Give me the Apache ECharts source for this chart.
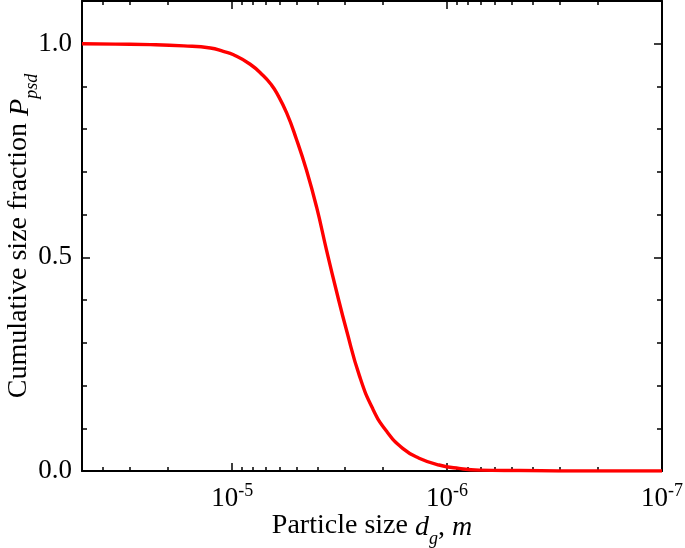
<!DOCTYPE html>
<html>
<head>
<meta charset="utf-8">
<script src="https://cdn.jsdelivr.net/npm/echarts@6/dist/echarts.min.js"></script>
<style>
html,body{margin:0;padding:0;background:#fff;}
#chart{width:685px;height:548px;}
</style>
</head>
<body>
<div id="chart"></div>
<script>
// Particle size d_g (m)
const sizes = [5e-5, 3.5e-5, 2.40e-5, 1.68e-5, 1.264e-5, 1.1e-5, 9.86e-6, 8.25e-6, 7.16e-6, 6.6e-6, 6.21e-6, 5.58e-6, 5.02e-6,
  4.51e-6, 4.05e-6, 3.64e-6, 3.28e-6, 2.94e-6, 2.555e-6, 2.22e-6, 1.92e-6, 1.61e-6, 1.35e-6,
  1.09e-6, 8.8e-7, 7.1e-7, 4.6e-7, 2.5e-7, 1e-7];
// Cumulative size fraction P_psd
const fractions = [1.0, 0.999, 0.998, 0.995, 0.990, 0.982, 0.974, 0.952, 0.925, 0.905, 0.885, 0.838, 0.776,
  0.704, 0.618, 0.517, 0.423, 0.330, 0.222, 0.146, 0.094, 0.053, 0.030,
  0.014, 0.006, 0.002, 0.001, 0.0, 0.0];

const xMajorTicks = [1e-5, 1e-6, 1e-7];
const xMajorExponents = ['-5', '-6', '-7'];
const xMinorTicks = [4e-5, 3e-5, 2e-5, 9e-6, 8e-6, 7e-6, 6e-6, 5e-6, 4e-6, 3e-6, 2e-6,
  9e-7, 8e-7, 7e-7, 6e-7, 5e-7, 4e-7, 3e-7, 2e-7];
const yMajorTicks = [0, 0.5, 1.0];
const yMinorTicks = [0.1, 0.2, 0.3, 0.4, 0.6, 0.7, 0.8, 0.9];
const xMin = 1e-7, xMax = 5e-5, yMin = 0, yMax = 1.1;

const FONT = 'Liberation Serif';
const lineStyle = {color: '#000', width: 2};

function xAxisDef(position, ticks, len, showLine, showLabel) {
  return {
    type: 'log', logBase: 10, inverse: true, min: xMin, max: xMax, position: position,
    axisLine: {show: showLine, onZero: false, lineStyle: lineStyle},
    axisTick: {show: true, inside: true, length: len, customValues: ticks, lineStyle: {color: '#000', width: 1.5}},
    splitLine: {show: false}, minorTick: {show: false},
    axisLabel: showLabel ? {
      show: true, margin: 11, customValues: xMajorTicks,
      formatter: function (v) {
        const i = xMajorTicks.findIndex(t => Math.abs(Math.log10(t) - Math.log10(v)) < 1e-6);
        return '{b|10}{s|' + (i >= 0 ? xMajorExponents[i] : '') + '}';
      },
      rich: {
        b: {fontFamily: FONT, fontSize: 27, color: '#000', lineHeight: 30, verticalAlign: 'bottom'},
        s: {fontFamily: FONT, fontSize: 18, color: '#000', lineHeight: 30, verticalAlign: 'top', padding: [0, 0, 12, 0]}
      }
    } : {show: false}
  };
}
function yAxisDef(position, ticks, len, showLine, showLabel) {
  return {
    type: 'value', min: yMin, max: yMax, position: position,
    axisLine: {show: showLine, onZero: false, lineStyle: lineStyle},
    axisTick: {show: true, inside: true, length: len, customValues: ticks, lineStyle: {color: '#000', width: 1.5}},
    splitLine: {show: false},
    axisLabel: showLabel ? {
      show: true, margin: 10, customValues: yMajorTicks,
      formatter: v => v.toFixed(1),
      fontFamily: FONT, fontSize: 27, color: '#000'
    } : {show: false}
  };
}

const xAxes = [
  xAxisDef('bottom', xMajorTicks, 8, true, true),
  xAxisDef('bottom', xMinorTicks, 4, false, false),
  xAxisDef('top', xMajorTicks, 8, true, false),
  xAxisDef('top', xMinorTicks, 4, false, false)
];
Object.assign(xAxes[0], {
  name: 'Particle size {i|d}{sub|g}{n|, }{i|m}', nameLocation: 'middle', nameGap: 39, nameMoveOverlap: false,
  nameTextStyle: {
    fontFamily: FONT, fontSize: 28, color: '#000', lineHeight: 32,
    rich: {
      i: {fontFamily: FONT, fontSize: 28, fontStyle: 'italic', color: '#000', lineHeight: 32, verticalAlign: 'bottom'},
      n: {fontFamily: FONT, fontSize: 28, color: '#000', lineHeight: 32, verticalAlign: 'bottom'},
      sub: {fontFamily: FONT, fontSize: 18, fontStyle: 'italic', color: '#000', lineHeight: 32, verticalAlign: 'bottom', padding: [0, 0, -6, 0]}
    }
  }
});

const yAxes = [
  yAxisDef('left', yMajorTicks, 8, true, true),
  yAxisDef('left', yMinorTicks, 5, false, false),
  yAxisDef('right', yMajorTicks, 8, true, false),
  yAxisDef('right', yMinorTicks, 5, false, false)
];
Object.assign(yAxes[0], {
  name: 'Cumulative size fraction {i|P}{sub|psd}', nameLocation: 'middle', nameGap: 47, nameRotate: 90, nameMoveOverlap: false,
  nameTextStyle: {
    fontFamily: FONT, fontSize: 28, color: '#000', lineHeight: 32,
    rich: {
      i: {fontFamily: FONT, fontSize: 28, fontStyle: 'italic', color: '#000', lineHeight: 32, verticalAlign: 'bottom'},
      sub: {fontFamily: FONT, fontSize: 18, fontStyle: 'italic', color: '#000', lineHeight: 32, verticalAlign: 'bottom', padding: [0, 0, -6, 0]}
    }
  }
});

const chart = echarts.init(document.getElementById('chart'), null, {renderer: 'canvas'});
chart.setOption({
  animation: false,
  backgroundColor: '#fff',
  grid: {left: 82, right: 23, top: 1, bottom: 77, containLabel: false, outerBoundsMode: 'none'},
  xAxis: xAxes,
  yAxis: yAxes,
  series: [{
    type: 'line', xAxisIndex: 0, yAxisIndex: 0,
    data: sizes.map((s, i) => [s, fractions[i]]),
    smooth: 0.5, showSymbol: false, symbol: 'none',
    lineStyle: {color: '#ff0000', width: 3.4},
    clip: true
  }]
});
</script>
</body>
</html>
